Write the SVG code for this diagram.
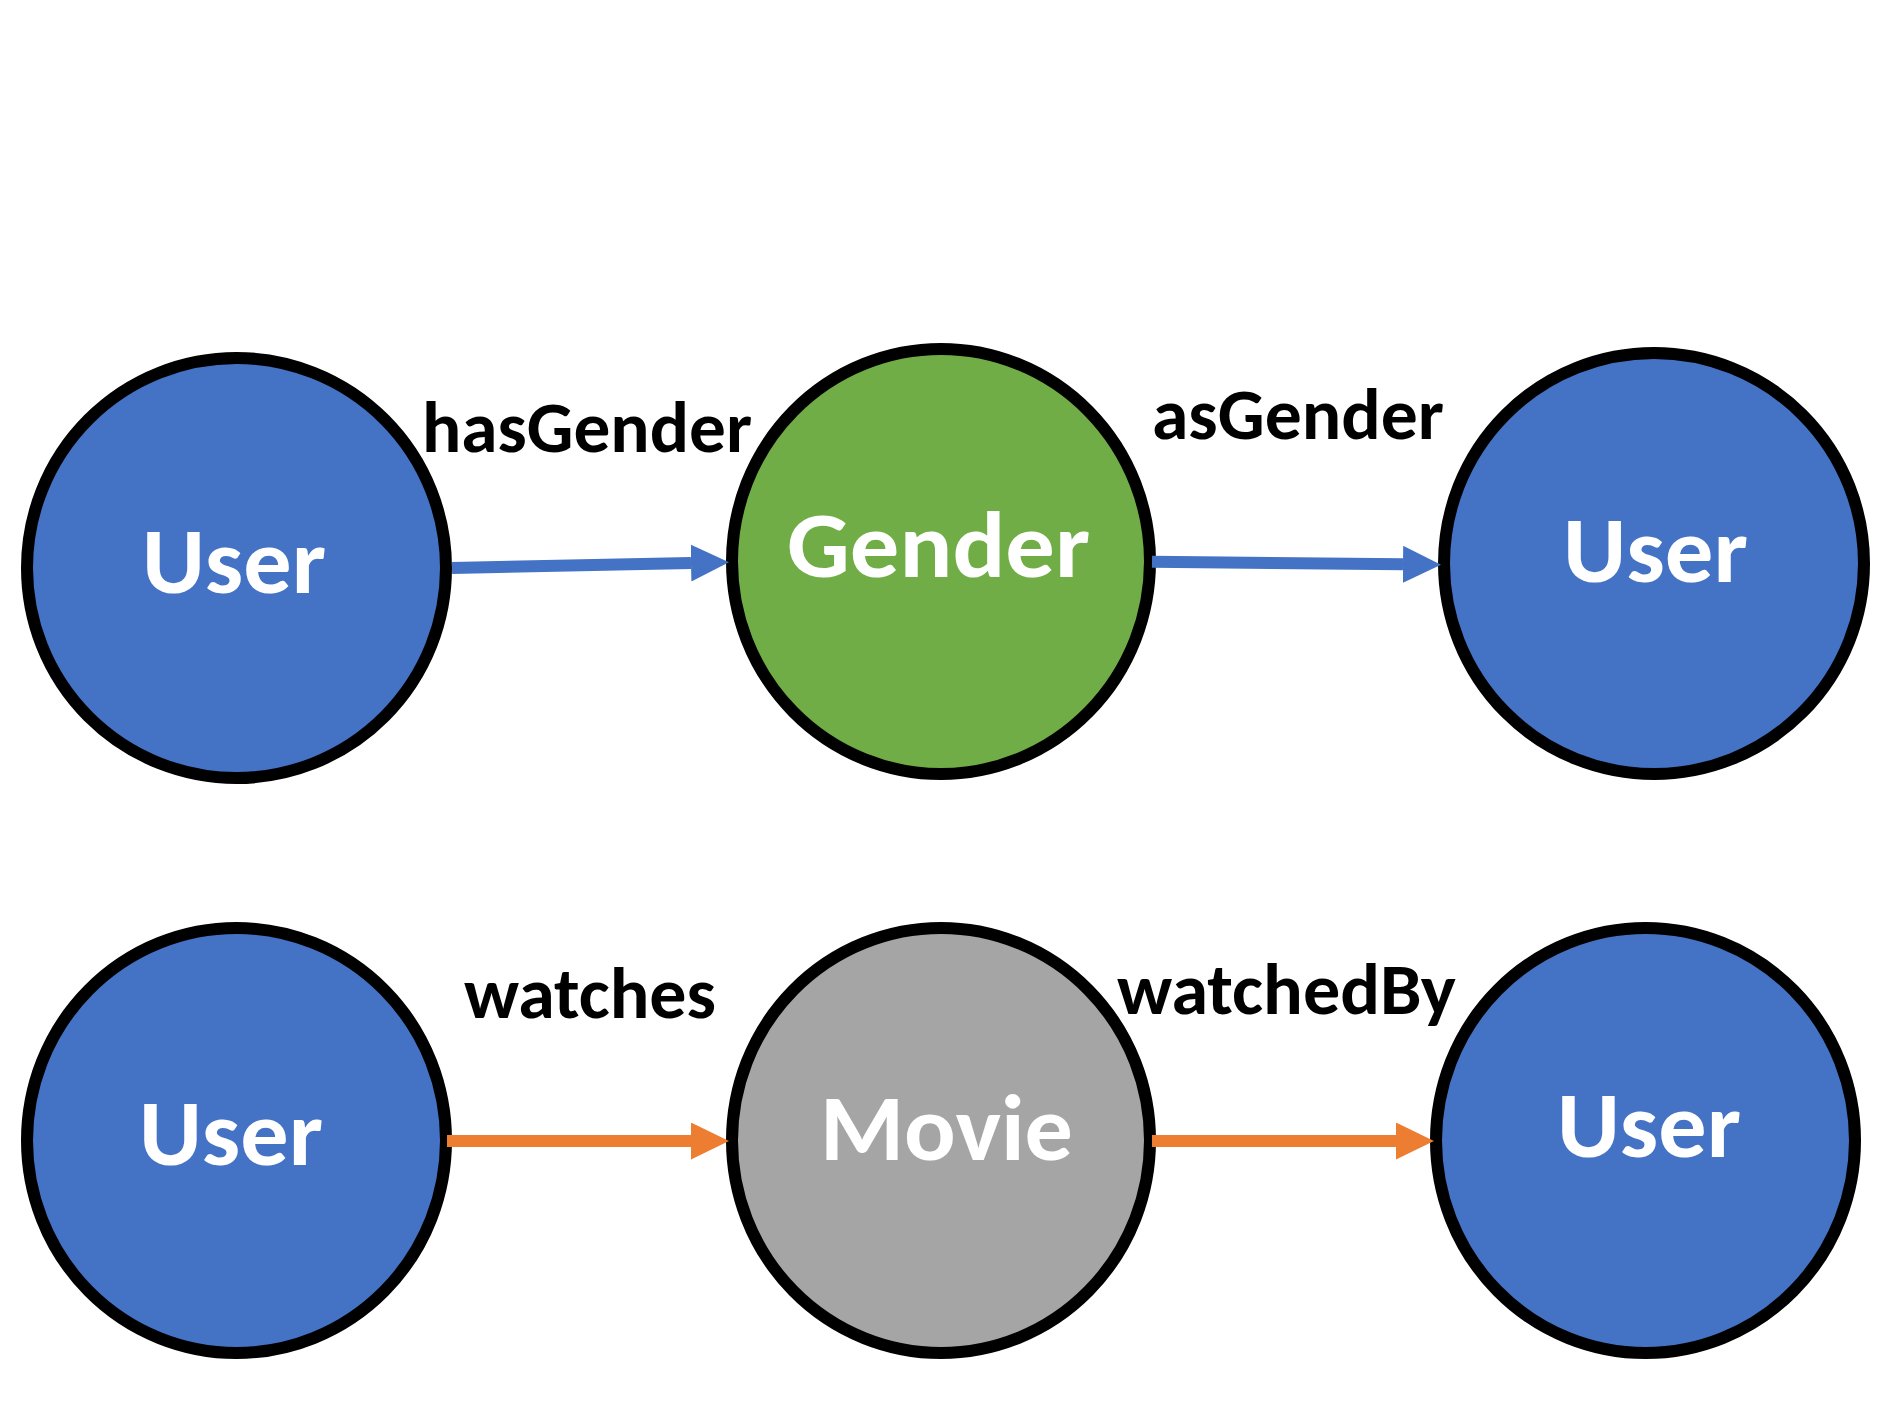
<svg xmlns="http://www.w3.org/2000/svg" width="1890" height="1417" viewBox="0 0 1890 1417">
  <style>
    .node { stroke: #000000; stroke-width: 12; }
    .user { fill: #4472C4; }
    .gender { fill: #70AD47; }
    .movie { fill: #A5A5A5; }
    .nlabel { font-family: Carlito, Calibri, Lato, "Noto Sans", sans-serif; font-weight: bold; font-size: 94px; fill: #FFFFFF; }
    .elabel { font-family: Carlito, Calibri, Lato, "Noto Sans", sans-serif; font-weight: bold; font-size: 73px; fill: #000000; }
    .eblue { stroke: #4472C4; stroke-width: 12; fill: none; marker-end: url(#headBlue); }
    .eorange { stroke: #ED7D31; stroke-width: 12; fill: none; marker-end: url(#headOrange); }
  </style>
  <defs>
    <marker id="headBlue" markerUnits="userSpaceOnUse" viewBox="0 0 38 37" markerWidth="38" markerHeight="37" refX="0" refY="18.5" orient="auto">
      <path d="M0,0 L38,18.5 L0,37 Z" fill="#4472C4"/>
    </marker>
    <marker id="headOrange" markerUnits="userSpaceOnUse" viewBox="0 0 38 37" markerWidth="38" markerHeight="37" refX="0" refY="18.5" orient="auto">
      <path d="M0,0 L38,18.5 L0,37 Z" fill="#ED7D31"/>
    </marker>
  </defs>
  <rect x="0" y="0" width="1890" height="1417" fill="#FFFFFF"/>

  <g id="user1">
    <ellipse class="node user" cx="236.5" cy="568" rx="209.5" ry="210"/>
    <text class="nlabel" x="142" y="593" textLength="184" lengthAdjust="spacingAndGlyphs">User</text>
  </g>
  <g id="gender">
    <ellipse class="node gender" cx="941" cy="561.5" rx="209" ry="212.5"/>
    <text class="nlabel" x="787" y="577" textLength="303" lengthAdjust="spacingAndGlyphs">Gender</text>
  </g>
  <g id="user2">
    <ellipse class="node user" cx="1654" cy="563.5" rx="210" ry="210.5"/>
    <text class="nlabel" x="1563" y="582" textLength="185" lengthAdjust="spacingAndGlyphs">User</text>
  </g>
  <g id="user3">
    <ellipse class="node user" cx="236.5" cy="1140.5" rx="209.5" ry="212.5"/>
    <text class="nlabel" x="139" y="1165" textLength="184" lengthAdjust="spacingAndGlyphs">User</text>
  </g>
  <g id="movie">
    <ellipse class="node movie" cx="941" cy="1140.5" rx="209" ry="212.5"/>
    <text class="nlabel" x="820" y="1160" textLength="253" lengthAdjust="spacingAndGlyphs">Movie</text>
  </g>
  <g id="user4">
    <ellipse class="node user" cx="1645.5" cy="1140.5" rx="209.5" ry="212.5"/>
    <text class="nlabel" x="1557" y="1157" textLength="184" lengthAdjust="spacingAndGlyphs">User</text>
  </g>

  <g id="connectors">
    <path class="eblue" d="M452,568 L691,563"/>
    <path class="eblue" d="M1152,561.7 L1403,564.3"/>
    <path class="eorange" d="M447,1141 L691,1141"/>
    <path class="eorange" d="M1152,1141 L1396,1141"/>
  </g>

  <g id="edge-labels">
    <text class="elabel" x="422" y="452" textLength="330" lengthAdjust="spacingAndGlyphs">hasGender</text>
    <text class="elabel" x="1152" y="439" textLength="292" lengthAdjust="spacingAndGlyphs">asGender</text>
    <text class="elabel" x="464" y="1018" textLength="252" lengthAdjust="spacingAndGlyphs">watches</text>
    <text class="elabel" x="1117" y="1014" textLength="339" lengthAdjust="spacingAndGlyphs">watchedBy</text>
  </g>
</svg>
